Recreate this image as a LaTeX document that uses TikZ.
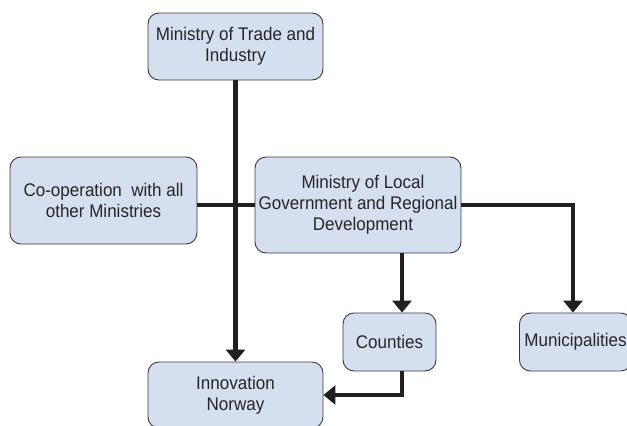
\documentclass[tikz,border=0pt]{standalone}
\usepackage{fontspec}
\setmainfont{Liberation Sans}[FakeStretch=0.93]
\usetikzlibrary{arrows.meta}
\definecolor{boxfill}{HTML}{D5DFF0}
\definecolor{boxline}{HTML}{3A3A3A}
\definecolor{conn}{HTML}{231F20}
\tikzset{
  orgbox/.style={draw=boxline, line width=0.9pt, fill=boxfill, rounded corners=11pt,
    align=center, font=\fontsize{18.3}{21}\selectfont, text=black!85, inner sep=1pt},
  link/.style={draw=conn, line width=4.6pt},
  arrowlink/.style={link, -{Triangle[width=19pt,length=12pt]}}
}
\begin{document}
\begin{tikzpicture}[x=1pt,y=-1pt]
\useasboundingbox (0,0) rectangle (627,426);
\clip (0,0) rectangle (627,426);
\fill[white] (0,0) rectangle (627,426);
\node[orgbox, minimum width=175pt, minimum height=67pt] (trade) at (235.5,46.5) {Ministry of Trade and\\Industry};
\node[orgbox, minimum width=187pt, minimum height=87pt] (coop) at (103.5,200.5) {Co-operation\ \ with all\\other Ministries};
\node[orgbox, minimum width=206pt, minimum height=96pt] (gov) at (358,205) {\hspace*{10pt}Ministry of Local\\Government and Regional\\\hspace*{10pt}Development};
\node[orgbox, minimum width=93pt, minimum height=58pt] (counties) at (389.5,342) {Counties};
\node[orgbox, minimum width=175pt, minimum height=66pt] (innov) at (235.5,395) {Innovation\\Norway};
\node[orgbox, anchor=west, minimum height=58pt, inner xsep=5pt] (muni) at (519,342) {Municipalities};
\coordinate (cx) at (402,0);
\coordinate (mx) at (573,0);
\draw[link] (gov.west -| coop.east) -- (gov.west);
\draw[arrowlink] (trade.south) -- (innov.north);
\draw[arrowlink] (gov.east) -| (muni.north -| mx);
\draw[arrowlink] (gov.south -| cx) -- (counties.north -| cx);
\draw[arrowlink] (counties.south -| cx) |- (innov.east);
\end{tikzpicture}
\end{document}
